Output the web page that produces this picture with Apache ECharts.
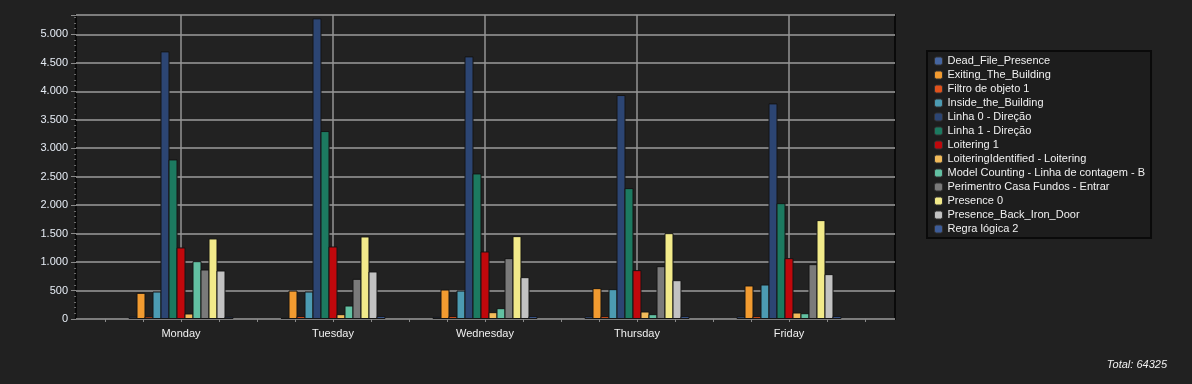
<!DOCTYPE html>
<html>
<head>
<meta charset="utf-8">
<script src="https://cdn.jsdelivr.net/npm/echarts@6/dist/echarts.min.js"></script>
<style>
html,body{margin:0;padding:0;background:#212121;}
#chart{width:1192px;height:384px;}
</style>
</head>
<body>
<div id="chart"></div>
<script>
// ---- data ----
const categories = ['Monday', 'Tuesday', 'Wednesday', 'Thursday', 'Friday'];
const seriesNames = [
  'Dead_File_Presence', 'Exiting_The_Building', 'Filtro de objeto 1', 'Inside_the_Building',
  'Linha 0 - Direção', 'Linha 1 - Direção', 'Loitering 1', 'LoiteringIdentified - Loitering',
  'Model Counting - Linha de contagem - B', 'Perimentro Casa Fundos - Entrar', 'Presence 0',
  'Presence_Back_Iron_Door', 'Regra lógica 2'
];
const deadFilePresence    = [40, 20, 38, 44, 44];
const exitingTheBuilding  = [460, 500, 518, 542, 589];
const filtroDeObjeto1     = [45, 50, 50, 50, 50];
const insideTheBuilding   = [483, 483, 500, 524, 606];
const linha0Direcao       = [4701, 5281, 4613, 3934, 3787];
const linha1Direcao       = [2803, 3301, 2557, 2299, 2035];
const loitering1          = [1257, 1274, 1186, 858, 1069];
const loiteringIdentified = [97, 85, 120, 132, 114];
const modelCounting       = [1016, 237, 190, 85, 102];
const perimentroCasa      = [870, 706, 1069, 928, 963];
const presence0           = [1415, 1450, 1456, 1508, 1737];
const presenceBackIron    = [852, 835, 735, 682, 788];
const regraLogica2        = [40, 50, 50, 50, 50];
const totalText = 'Total: 64325';
const yMin = 0, yMax = 5340, yInterval = 500;

const seriesValues = [deadFilePresence, exitingTheBuilding, filtroDeObjeto1, insideTheBuilding,
  linha0Direcao, linha1Direcao, loitering1, loiteringIdentified, modelCounting, perimentroCasa,
  presence0, presenceBackIron, regraLogica2];
const colors = ['#4565a0', '#f29b30', '#e0521c', '#4c9bb2', '#2c4573', '#1c7a60', '#c0080c',
  '#f2bb5a', '#62c0a2', '#7a7a7a', '#f2ea8a', '#c2c2c2', '#3d5c98'];

const fmt = v => String(v).replace(/\B(?=(\d{3})+(?!\d))/g, '.');
const tickSlots = Array.from({length: 21}, (_, i) => String(i));
const FONT = 'Liberation Sans, Arial, sans-serif';

const chart = echarts.init(document.getElementById('chart'), null, {renderer: 'canvas'});
chart.setOption({
  backgroundColor: '#212121',
  animation: false,
  color: colors,
  textStyle: {fontFamily: FONT},
  grid: [
    {left: 76, right: 297, top: 15, bottom: 65, show: true, backgroundColor: '#222222',
     borderColor: '#0a0a0a', borderWidth: 2, z: 0},
    {left: 105, right: 327, top: 15, bottom: 65, show: false}
  ],
  xAxis: [
    {gridIndex: 0, type: 'value', min: 0, max: 1, show: false},
    {gridIndex: 1, type: 'category', data: tickSlots, boundaryGap: false, position: 'bottom',
     axisLine: {show: false}, axisLabel: {show: false},
     axisTick: {show: true, interval: 0, length: 3, lineStyle: {color: '#8a8a8a', width: 1}},
     splitLine: {show: true, interval: (i) => i % 4 === 2,
       lineStyle: {color: '#959595', width: 1.5}}},
    {gridIndex: 1, type: 'category', data: categories, boundaryGap: true, position: 'bottom',
     axisLine: {show: false}, axisTick: {show: false}, splitLine: {show: false},
     axisLabel: {color: '#f0f0f0', fontSize: 11, fontFamily: FONT, margin: 9}}
  ],
  yAxis: [
    {gridIndex: 0, type: 'value', min: yMin, max: yMax, interval: yInterval,
     axisLine: {show: false},
     axisTick: {show: true, length: 5, lineStyle: {color: '#8a8a8a'}},
     minorTick: {show: true, splitNumber: 5, length: 2, lineStyle: {color: '#6a6a6a'}},
     splitLine: {show: true, lineStyle: {color: '#7d7d7d', width: 2}},
     axisLabel: {color: '#e6ecf5', fontSize: 11, fontFamily: FONT, margin: 8,
       showMaxLabel: false, formatter: fmt}},
    {gridIndex: 1, type: 'value', min: yMin, max: yMax, interval: yInterval, show: false,
     splitLine: {show: false}}
  ],
  legend: {
    orient: 'vertical', left: 927, top: 51,
    icon: 'roundRect', itemWidth: 8, itemHeight: 8, itemGap: 0, itemTextGap: 8,
    padding: [3, 6, 2, 7],
    backgroundColor: '#1d1d1d', borderColor: '#0a0a0a', borderWidth: 2,
    textStyle: {color: '#f0f0f0', fontSize: 11, fontFamily: FONT, lineHeight: 14},
    itemStyle: {borderColor: '#333', borderWidth: 1},
    data: seriesNames
  },
  graphic: [{
    type: 'text', right: 25, top: 359,
    style: {text: totalText, fill: '#f0f0f0', fontSize: 11, fontStyle: 'italic', fontFamily: FONT}
  }],
  series: seriesNames.map((name, i) => ({
    name: name, type: 'bar', xAxisIndex: 2, yAxisIndex: 1,
    data: seriesValues[i], barWidth: 9, barGap: '-11.1111%',
    itemStyle: {color: colors[i], borderColor: '#141414', borderWidth: 1}
  }))
});
</script>
</body>
</html>
